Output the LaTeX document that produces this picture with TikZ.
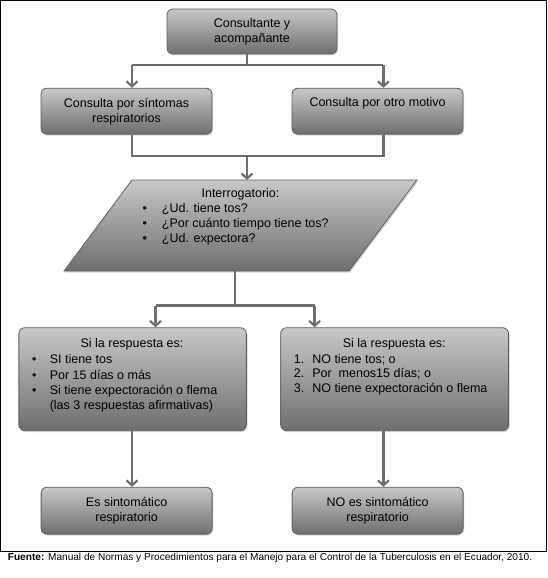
\documentclass[tikz,border=0pt]{standalone}
\usepackage{fontspec}
\setmainfont{Liberation Sans}
\usetikzlibrary{arrows.meta,shadows,calc}
\definecolor{gtop}{HTML}{C8C8C8}
\definecolor{gbot}{HTML}{6E6E6E}
\definecolor{edgec}{HTML}{5E5E5E}
\definecolor{wirec}{HTML}{6E6E6E}
\begin{document}
\begin{tikzpicture}[x=1pt,y=-1pt,
  shade/.style={draw=edgec, line width=0.8pt, top color=gtop, bottom color=gbot,
    drop shadow={shadow xshift=1.2pt,shadow yshift=-1.5pt,opacity=0.3}},
  box/.style={shade, rounded corners=6pt, inner sep=0pt, align=center,
    font=\fontsize{12.5}{15}\selectfont},
  txt/.style={inner sep=0pt, font=\fontsize{12.5}{15}\selectfont},
  wire/.style={draw=wirec, line width=2.6pt},
  arr/.style={wire, -{Straight Barb[length=5pt,width=11pt,line width=2.2pt]}}
]
\useasboundingbox (0,0) rectangle (548,578);
\draw[line width=1pt] (0.5,0.8) rectangle (546.3,551.5);

% column guide coordinates
\coordinate (xL) at (132,0);
\coordinate (xR) at (383.4,0);
\coordinate (xL2) at (155.5,0);
\coordinate (xR2) at (314.6,0);

% boxes
\node[box, minimum width=170pt, minimum height=45pt] (top) at (252,31.5) {Consultante y\\acompañante};
\node[box, minimum width=171pt, minimum height=46pt] (b1) at (126.5,111.2) {Consulta por síntomas\\respiratorios};
\node[box, minimum width=171pt, minimum height=46pt] (b2) at (377.5,111.2) {};
\node[txt, anchor=base] (b2t) at (377.6,106.2) {Consulta por otro motivo};

% parallelogram
\draw[shade] (132,180) -- (417,180) -- (349,271) -- (64,271) -- cycle;
\coordinate (qN) at (247,180);
\coordinate (qS) at (235,271);
\node[txt, anchor=base] (qt) at (240.5,197.2) {Interrogatorio:};
\node[txt, anchor=base west] (q1) at (142.5,212.8) {\makebox[19.2pt][l]{•}¿Ud. tiene tos?};
\node[txt, anchor=base west] (q2) at (142.5,227.8) {\makebox[19.2pt][l]{•}¿Por cuánto tiempo tiene tos?};
\node[txt, anchor=base west] (q3) at (142.5,242.8) {\makebox[19.2pt][l]{•}¿Ud. expectora?};

% lower boxes
\node[box, minimum width=227.5pt, minimum height=103pt] (yes) at (132.6,379.2) {};
\node[txt, anchor=base] (yt) at (132,347.8) {Si la respuesta es:};
\node[txt, anchor=base west] (y1) at (32,363.8) {\makebox[17.6pt][l]{•}SI tiene tos};
\node[txt, anchor=base west] (y2) at (32,379.4) {\makebox[17.6pt][l]{•}Por 15 días o más};
\node[txt, anchor=base west] (y3) at (32,394.8) {\makebox[17.6pt][l]{•}Si tiene expectoración o flema};
\node[txt, anchor=base west] (y4) at (49.6,409.6) {(las 3 respuestas afirmativas)};

\node[box, minimum width=227.9pt, minimum height=103pt] (no) at (394.6,379.2) {};
\node[txt, anchor=base] (nt) at (394.3,347.8) {Si la respuesta es:};
\node[txt, anchor=base west] (n1) at (293.6,363.2) {\makebox[18.5pt][l]{1.}NO tiene tos; o};
\node[txt, anchor=base west] (n2) at (293.6,377.6) {\makebox[18.5pt][l]{2.}Por\ \ menos15 días; o};
\node[txt, anchor=base west] (n3) at (293.6,392.4) {\makebox[18.5pt][l]{3.}NO tiene expectoración o flema};

\node[box, minimum width=171pt, minimum height=47pt] (es) at (126.6,510.7) {Es sintomático\\respiratorio};
\node[box, minimum width=171pt, minimum height=47pt] (noes) at (377.6,510.7) {NO es sintomático\\respiratorio};

% connectors
\coordinate (j1) at (247,65);
\coordinate (j2) at (247,156);
\coordinate (j3) at (235,305.5);
\draw[wire] (top.south -| j1) -- (j1);
\draw[wire] (j1 -| xL) -- (j1 -| xR);
\draw[arr] (j1 -| xL) -- (b1.north -| xL);
\draw[arr] (j1 -| xR) -- (b2.north -| xR);
\draw[wire] (b1.south -| xL) |- (j2) -| (b2.south -| xR);
\draw[arr] (j2) -- (qN);
\draw[wire] (qS) -- (j3);
\draw[wire] (j3 -| xL2) -- (j3 -| xR2);
\draw[arr] (j3 -| xL2) -- (yes.north -| xL2);
\draw[arr] (j3 -| xR2) -- (no.north -| xR2);
\draw[arr] (yes.south -| xL) -- (es.north -| xL);
\draw[arr] (no.south -| xR) -- (noes.north -| xR);

% footer
\node[inner sep=0pt, anchor=base west, font=\fontsize{10.1}{12}\selectfont] (src) at (7.7,560.6)
  {\textbf{Fuente:} Manual de Normas y Procedimientos para el Manejo para el Control de la Tuberculosis en el Ecuador, 2010.};
\end{tikzpicture}
\end{document}
